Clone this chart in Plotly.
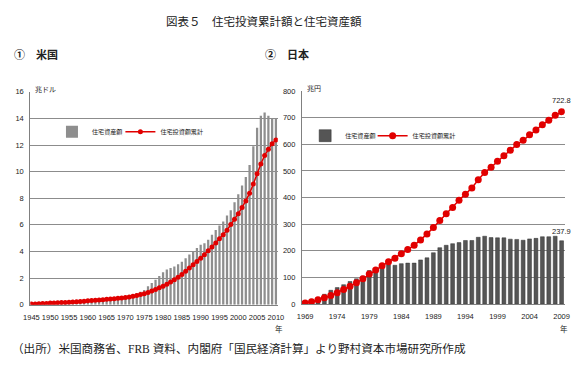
import plotly.graph_objects as go

# ---------------- data ----------------
us_years = list(range(1945, 2011))
us_assets = [0.07, 0.08, 0.09, 0.10, 0.11,
             0.13, 0.14, 0.16, 0.18, 0.20,
             0.22, 0.24, 0.26, 0.28, 0.30,
             0.32, 0.34, 0.37, 0.40, 0.43,
             0.46, 0.49, 0.53, 0.57, 0.62,
             0.67, 0.73, 0.80, 0.88, 0.97,
             1.10, 1.39, 1.63, 1.88, 2.15,
             2.44, 2.64, 2.76, 2.88, 3.05,
             3.22, 3.49, 3.78, 4.03, 4.27,
             4.50, 4.62, 4.89, 5.25, 5.62,
             5.95, 6.25, 6.70, 7.10, 7.70,
             8.30, 8.95, 9.60, 10.50, 11.90,
             13.30, 14.20, 14.45, 14.20, 14.00,
             14.00]
us_cum_inv = [0.05, 0.06, 0.07, 0.09, 0.10,
              0.12, 0.13, 0.15, 0.16, 0.17,
              0.19, 0.21, 0.23, 0.25, 0.27,
              0.29, 0.31, 0.33, 0.36, 0.38,
              0.41, 0.43, 0.45, 0.48, 0.51,
              0.54, 0.58, 0.63, 0.69, 0.76,
              0.83, 0.92, 1.03, 1.14, 1.27,
              1.39, 1.54, 1.71, 1.88, 2.07,
              2.27, 2.51, 2.76, 3.00, 3.25,
              3.49, 3.75, 4.05, 4.33, 4.64,
              4.95, 5.25, 5.60, 6.03, 6.42,
              6.84, 7.30, 7.80, 8.37, 9.07,
              9.85, 10.58, 11.22, 11.68, 12.10,
              12.38]
us_xticks = list(range(1945, 2011, 5))
us_yticks = list(range(0, 17, 2))

jp_years = list(range(1969, 2010))
jp_assets = [13, 18, 25, 37, 52,
             62, 73, 85, 95, 105,
             126, 132, 138, 148, 146,
             152, 154, 154, 166, 174,
             193, 212, 221, 227, 231,
             239, 239, 251, 255, 250,
             249, 249, 244, 243, 240,
             245, 247, 253, 253, 255,
             237.9]
jp_cum_inv = [4, 8.5, 16, 24, 32,
              43, 55, 67, 80, 95,
              113, 128, 144, 159, 172,
              189, 205, 221, 241, 263,
              288, 314, 339, 363, 390,
              413, 436, 467, 494, 514,
              537, 557, 578, 599, 615,
              636, 654, 674, 691, 709,
              722.8]
jp_xticks = list(range(1969, 2010, 5))
jp_yticks = list(range(0, 801, 100))

name_assets = "住宅資産額"
name_cum = "住宅投資額累計"

# ---------------- figure ----------------
W, H = 580, 366
def px(x):
    return x / W
def py(y):
    return 1 - y / H

NUM = "Liberation Sans, Noto Sans CJK JP"
CJK = "Noto Sans CJK JP, Liberation Sans"
SERIF = "Liberation Serif, Noto Sans CJK JP"
RED = "#e10000"
GRID = "#8c8c8c"

fig = go.Figure()

fig.add_trace(go.Bar(x=us_years, y=us_assets, name=name_assets,
                     marker=dict(color="#8e8e8e", line=dict(width=0)),
                     xaxis="x", yaxis="y", legend="legend"))
fig.add_trace(go.Scatter(x=us_years, y=us_cum_inv, name=name_cum,
                         mode="lines+markers",
                         line=dict(color=RED, width=1.5),
                         marker=dict(color=RED, size=5),
                         xaxis="x", yaxis="y", legend="legend2"))

fig.add_trace(go.Bar(x=jp_years, y=jp_assets, name=name_assets,
                     marker=dict(color="#555555", line=dict(color="#333333", width=0.5)),
                     xaxis="x2", yaxis="y2", legend="legend3"))
fig.add_trace(go.Scatter(x=jp_years, y=jp_cum_inv, name=name_cum,
                         mode="lines+markers",
                         line=dict(color=RED, width=1.5),
                         marker=dict(color=RED, size=7),
                         xaxis="x2", yaxis="y2", legend="legend4"))

axis_common = dict(showline=True, linecolor="#808080", linewidth=1,
                   tickfont=dict(family=NUM, size=7.5, color="#222"),
                   ticks="", zeroline=False)

def leg(x, y):
    return dict(orientation="h", x=px(x), y=py(y), xanchor="left", yanchor="middle",
                font=dict(family=CJK, size=6.1, color="#222"), bgcolor="rgba(0,0,0,0)",
                itemwidth=30, tracegroupgap=0)

fig.update_layout(
    width=W, height=H,
    margin=dict(l=0, r=0, t=0, b=0),
    paper_bgcolor="white", plot_bgcolor="white",
    bargap=0.4,
    font=dict(family=CJK, color="#222"),
    xaxis=dict(domain=[px(23.8), px(277)], range=[1944.7, 2010.5],
               tickvals=us_xticks, showgrid=False, anchor="y",
               ticklabelstandoff=5, **axis_common),
    yaxis=dict(domain=[1 - 308.3 / H, 1 - 90 / H], range=[0, 16],
               tickvals=us_yticks, showgrid=True, gridcolor=GRID, gridwidth=1,
               anchor="x", ticklabelstandoff=4, **axis_common),
    xaxis2=dict(domain=[px(301.7), px(570.6)], range=[1968.5, 2009.5],
                tickvals=jp_xticks, showgrid=False, anchor="y2",
                ticklabelstandoff=5, **axis_common),
    yaxis2=dict(domain=[1 - 307.7 / H, 1 - 89.3 / H], range=[0, 800],
                tickvals=jp_yticks, showgrid=True, gridcolor=GRID, gridwidth=1,
                anchor="x2", ticklabelstandoff=4, **axis_common),
    legend=leg(46, 131),
    legend2=leg(116, 131),
    legend3=leg(305, 135),
    legend4=leg(374, 135),
    showlegend=True,
)

def paper_text(text, x, y, size, family=CJK, xanchor="left"):
    return dict(text=text, x=px(x), y=py(y), xanchor=xanchor, yanchor="middle",
                xref="paper", yref="paper", showarrow=False,
                font=dict(family=family, size=size, color="#222"))

ann = [
    paper_text("図表５　住宅投資累計額と住宅資産額", 262.5, 18, 11.5, SERIF, "center"),
    paper_text("<b>①　米国</b>", 5, 51, 11),
    paper_text("<b>②　日本</b>", 262, 51, 11),
    paper_text("兆ドル", 27, 87, 7),
    paper_text("兆円", 305, 86, 7),
    paper_text("年", 278, 333, 7.5, CJK, "center"),
    paper_text("年", 570, 333, 7.5, CJK, "center"),
    paper_text("（出所）米国商務省、FRB 資料、内閣府「国民経済計算」より野村資本市場研究所作成",
               3, 354, 11.6, SERIF),
]
ann.append(dict(text=f"{jp_cum_inv[-1]}", x=jp_years[-1], y=jp_cum_inv[-1],
                xref="x2", yref="y2", showarrow=False, yshift=11,
                font=dict(family=NUM, size=7.5, color="#222")))
ann.append(dict(text=f"{jp_assets[-1]}", x=jp_years[-1], y=jp_assets[-1],
                xref="x2", yref="y2", showarrow=False, yshift=9,
                font=dict(family=NUM, size=7.5, color="#222")))
fig.update_layout(annotations=ann)

fig.write_html("out.html", config={"displayModeBar": False},
               post_script="document.body.style.margin='0';document.body.style.padding='0';")
